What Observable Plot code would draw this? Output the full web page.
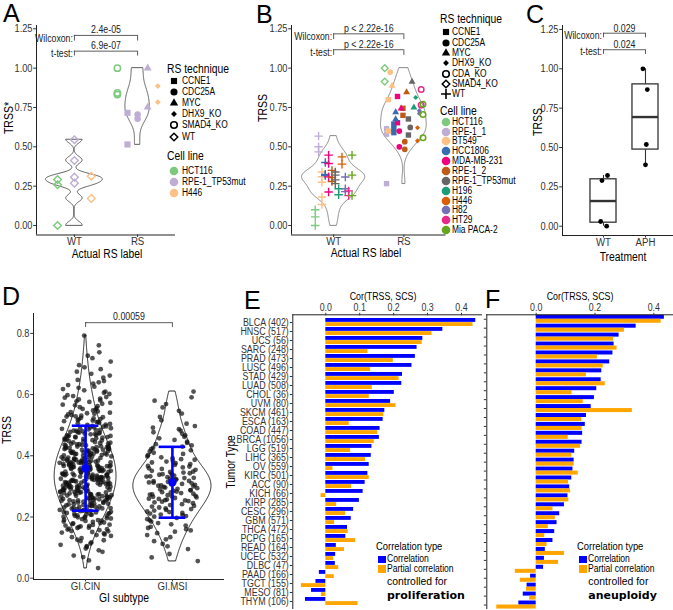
<!DOCTYPE html>
<html>
<head>
<meta charset="utf-8">
<script src="https://cdn.jsdelivr.net/npm/d3@7"></script>
<script src="https://cdn.jsdelivr.net/npm/@observablehq/plot@0.6"></script>
<style>
  html,body{margin:0;padding:0;background:#fff;}
  #fig{position:relative;width:673px;height:610px;overflow:hidden;background:#fff;}
  #fig > svg{position:absolute;left:0;top:0;}
  .lbl{position:absolute;white-space:nowrap;line-height:1;}
</style>
</head>
<body>
<div id="fig"></div>
<script>
const SANS = '"Liberation Sans",Arial,Helvetica,sans-serif';
const BOLDV = '"DejaVu Sans",Verdana,sans-serif';
const K = 0.84; // horizontal condensing of the narrow Helvetica used in the figure
const TICK = "#333";

// ================= Panel A data =================
const aLabels = ["WT", "RS"];
const aCellLines = ["HCT116", "RPE-1_TP53mut", "H446"];
const aCellColors = ["#7FC97F", "#BEAED4", "#FDC086"];
const aTechniques = ["CCNE1", "CDC25A", "MYC", "DHX9_KO", "SMAD4_KO", "WT"];
const aTechShapes = ["square", "circle", "triangle", "diamondSmall", "circleOpen", "diamondOpen"];
const aGrpLabel = ["WT", "WT", "WT", "RS", "RS", "RS", "RS", "RS"];
const aGrpCell = ["HCT116", "RPE-1_TP53mut", "H446", "HCT116", "RPE-1_TP53mut", "RPE-1_TP53mut", "RPE-1_TP53mut", "H446"];
const aGrpTech = ["WT", "WT", "WT", "SMAD4_KO", "CCNE1", "CDC25A", "MYC", "DHX9_KO"];
const aGrpTRSS = [[0.00, 0.259, 0.292], [0.545, 0.413, 0.307, 0.269], [0.313, 0.172],
  [1.00, 0.842, 0.832], [0.716, 0.515], [0.705, 0.679], [1.00, 0.752], [0.886, 0.784]];
const aTests = ["Wilcoxon:", "t-test:"];
const aPvals = ["2.4e-05", "6.9e-07"];
const aBracketTop = [1.208, 1.108];
const aBracketLow = [1.172, 1.077];

// ================= Panel B data =================
const bLabels = ["WT", "RS"];
const bCellLines = ["HCT116", "RPE-1_1", "BT549", "HCC1806", "MDA-MB-231", "RPE-1_2", "RPE-1_TP53mut", "H196", "H446", "H82", "HT29", "Mia PACA-2"];
const bCellColors = ["#7FC97F", "#BEAED4", "#FDC086", "#386CB0", "#F0027F", "#BF5B17", "#666666", "#1B9E77", "#D95F02", "#7570B3", "#E7298A", "#66A61E"];
const bTechniques = ["CCNE1", "CDC25A", "MYC", "DHX9_KO", "CDA_KO", "SMAD4_KO", "WT"];
const bTechShapes = ["square", "circle", "triangle", "diamondSmall", "circleOpen", "diamondOpen", "plus"];
const bGrpLabel = ["WT","WT","WT","WT","WT","WT","WT","WT","WT","WT","WT","WT",
  "RS","RS","RS","RS","RS","RS","RS","RS","RS","RS","RS","RS","RS","RS","RS","RS","RS","RS","RS","RS","RS","RS"];
const bGrpCell = ["HCT116","RPE-1_1","BT549","HCC1806","MDA-MB-231","RPE-1_2","RPE-1_TP53mut","H196","H446","H82","HT29","Mia PACA-2",
  "HCT116","RPE-1_1","BT549","BT549","BT549","HCC1806","HCC1806","MDA-MB-231","MDA-MB-231","MDA-MB-231",
  "RPE-1_2","RPE-1_2","RPE-1_2","RPE-1_TP53mut","RPE-1_TP53mut","RPE-1_TP53mut","H196","H196","H446","H82","HT29","Mia PACA-2"];
const bGrpTech = ["WT","WT","WT","WT","WT","WT","WT","WT","WT","WT","WT","WT",
  "SMAD4_KO","CCNE1","CCNE1","CDC25A","MYC","CCNE1","MYC","CCNE1","CDC25A","MYC",
  "CCNE1","CDC25A","MYC","CCNE1","CDC25A","MYC","MYC","DHX9_KO","DHX9_KO","DHX9_KO","CDA_KO","CDA_KO"];
const bGrpTRSS = [
  [0.00, 0.055, 0.10], [0.568, 0.50, 0.468], [0.34, 0.31, 0.275, 0.181, 0.133], [0.40, 0.325, 0.318],
  [0.447, 0.394, 0.309, 0.213], [0.35, 0.305, 0.28], [0.34, 0.32, 0.29, 0.266], [0.234, 0.195],
  [0.436, 0.39], [0.308, 0.234, 0.215], [0.22, 0.19], [0.447, 0.32, 0.19],
  [1.00, 0.915], [0.615, 0.58, 0.266], [0.80, 0.60], [0.975], [0.888], [0.645, 0.615, 0.59], [0.72, 0.675],
  [0.82, 0.653], [0.60, 0.50], [0.743], [0.745, 0.70], [0.533, 0.484], [0.847],
  [0.677, 0.575], [0.623], [0.913], [0.75], [0.813], [0.621, 0.538], [0.73, 0.712], [0.865, 0.765], [0.771, 0.705, 0.558]];
const bTests = ["Wilcoxon:", "t-test:"];
const bPvals = ["p < 2.22e-16", "p < 2.22e-16"];
const bBracketTop = [1.218, 1.117];
const bBracketLow = [1.181, 1.081];

// ================= Panel C data =================
const cTreatments = ["WT", "APH"];
const cPtTreat = ["WT", "WT", "WT", "WT", "APH", "APH", "APH", "APH"];
const cPtTRSS = [0.00, 0.03, 0.29, 0.322, 1.00, 0.868, 0.519, 0.39];
const cTests = ["Wilcoxon:", "t-test:"];
const cPvals = ["0.029", "0.024"];
const cBracketTop = [1.226, 1.121];
const cBracketLow = [1.197, 1.091];

// ================= Panel D data (TRSS x1000) =================
const dSubtypes = ["GI.CIN", "GI.MSI"];
const dCINx1000 = [33,58,69,74,86,91,97,
 102,105,109,113,117,121,124,126,131,134,138,141,143,146,149,
 151,153,154,157,159,160,162,164,165,167,169,171,172,174,175,177,179,180,182,184,185,187,188,190,191,193,195,196,198,199,
 200,201,203,204,205,207,208,209,210,211,212,213,215,216,217,218,219,220,221,222,223,225,226,227,228,229,230,231,232,233,234,235,236,237,238,239,240,241,242,243,244,245,246,247,249,
 250,251,252,253,254,254,255,256,257,258,259,260,261,261,262,263,264,265,266,267,268,268,269,270,271,272,273,274,275,275,276,277,278,279,280,281,282,282,283,284,285,286,287,288,289,289,290,291,292,293,294,295,296,296,297,298,299,299,
 300,300,301,302,303,303,304,305,306,306,307,308,309,309,310,311,312,312,313,314,315,315,316,317,318,318,319,320,321,321,322,323,324,324,325,326,327,327,328,329,330,330,331,332,333,333,334,335,336,336,337,338,339,339,340,341,342,342,343,344,345,346,347,348,
 350,351,351,352,353,354,354,355,356,357,357,358,359,360,360,361,362,363,363,364,365,366,366,367,368,369,369,370,371,372,372,373,374,375,375,376,377,378,378,379,380,381,381,382,383,384,384,385,386,387,387,388,389,390,391,392,393,394,395,396,397,398,
 400,401,402,403,404,404,405,406,407,408,409,410,410,411,412,413,414,415,416,416,417,418,419,420,421,422,422,423,424,425,426,427,428,428,429,430,431,432,433,434,435,436,437,438,439,440,441,443,444,445,447,448,
 450,451,452,454,455,456,457,459,460,461,462,463,465,466,467,468,470,471,472,473,475,476,477,478,480,481,482,484,485,486,488,489,490,492,493,495,496,498,
 501,502,504,506,508,510,511,513,515,517,519,520,522,524,526,528,529,531,533,535,537,539,541,543,545,548,
 551,553,556,559,562,565,567,570,573,576,578,581,584,587,590,592,595,598,
 602,606,610,614,618,622,626,631,636,640,644,648,
 655,662,668,675,683,689,696,708,719,727,738,761,793];
const dMSIx1000 = [56,68,79,95,
 104,112,121,127,134,141,147,
 152,156,160,164,168,172,176,180,185,189,193,197,
 201,203,206,208,211,213,216,218,221,223,226,228,231,234,236,239,242,245,248,
 250,252,254,255,257,259,260,262,264,266,267,269,271,273,274,276,278,280,281,283,285,287,288,290,292,294,296,298,
 300,302,303,305,307,308,310,312,313,315,317,318,320,322,323,325,327,328,330,332,333,335,337,338,340,342,343,345,347,348,
 351,354,357,359,362,365,367,370,373,376,378,381,384,387,389,392,395,398,
 402,406,410,414,418,422,426,430,434,438,442,446,
 452,457,462,467,472,477,482,487,492,497,
 505,516,527,538,547,558,569,580,591,610];
const dPval = ["0.00059"];
const dBracketTop = [0.835];
const dBracketLow = [0.819];

// ================= Panel E / F data =================
const eTumors = ["BLCA (402)","HNSC (517)","UCS (56)","SARC (248)","PRAD (473)","LUSC (496)","STAD (429)","LUAD (508)",
  "CHOL (36)","UVM (80)","SKCM (461)","ESCA (163)","COAD (447)","BRCA (1056)","LGG (519)","LIHC (365)","OV (559)",
  "KIRC (501)","ACC (90)","KICH (66)","KIRP (285)","CESC (296)","GBM (571)","THCA (472)","PCPG (165)","READ (164)",
  "UCEC (532)","DLBC (47)","PAAD (166)","TGCT (155)","MESO (81)","THYM (106)"];
const eCor = [0.442,0.345,0.286,0.269,0.264,0.254,0.226,0.224,0.202,0.191,0.174,0.169,0.160,0.158,0.136,0.134,
  0.128,0.124,0.116,0.110,0.099,0.082,0.075,0.064,0.059,0.031,0.029,0.028,-0.019,-0.029,-0.042,-0.060];
const ePartial = [0.434,0.313,0.284,0.124,0.199,0.132,0.216,0.137,0.128,0.207,0.171,0.069,0.153,0.143,0.073,0.117,
  0.021,0.128,0.076,-0.014,0.032,0.058,0.026,0.066,0.088,0.055,0.023,0.038,0.025,-0.072,-0.013,0.095];
const fCor = [0.436,0.340,0.282,0.265,0.261,0.250,0.223,0.221,0.206,0.198,0.187,0.171,0.167,0.158,0.156,0.131,0.129,
  0.125,0.121,0.114,0.108,0.096,0.080,0.071,0.063,0.057,0.031,0.028,0.025,-0.019,-0.031,-0.044,-0.059];
const fPartial = [0.425,0.300,0.263,0.275,0.208,0.228,0.171,0.235,0.122,0.160,0.327,0.155,0.156,0.109,0.151,0.121,0.129,
  0.143,0.110,0.117,0.111,0.057,0.065,0.041,0.029,0.037,0.096,0.076,-0.071,-0.054,-0.033,-0.022,-0.134];
const corTypes = ["Correlation", "Partial correlation"];
const corColors = ["#0000FF", "#FFA500"];

// ================= helpers =================
const fig = document.getElementById("fig");
function addText(txt, x, y, o = {}) {
  const d = document.createElement("div");
  d.className = "lbl";
  d.textContent = txt;
  d.style.fontSize = (o.size || 11) + "px";
  d.style.fontFamily = o.family || SANS;
  if (o.weight) d.style.fontWeight = o.weight;
  d.style.color = o.color || "#000";
  d.style.left = x + "px";
  d.style.top = y + "px";
  const k = o.wide ? 1 : K;
  if (o.rotate) {
    d.style.transformOrigin = "50% 50%";
    d.style.transform = `translate(-50%,-50%) rotate(${o.rotate}deg) scale(${k},1)`;
  } else {
    const tx = o.anchor === "middle" ? "-50%" : o.anchor === "end" ? "-100%" : "0";
    d.style.transformOrigin = o.anchor === "middle" ? "50% 50%" : o.anchor === "end" ? "100% 50%" : "0 50%";
    d.style.transform = `translate(${tx},-50%) scale(${k},1)`;
  }
  fig.appendChild(d);
}
const LEG = {
  square: [d3.symbolSquare, 38, false], circle: [d3.symbolCircle, 40, false], triangle: [d3.symbolTriangle, 30, false],
  diamondSmall: [d3.symbolDiamond2, 22, false], circleOpen: [d3.symbolCircle, 34, true, 1.6],
  diamondOpen: [d3.symbolDiamond2, 36, true, 1.5], plus: [d3.symbolPlus, 34, true, 1.6], dot: [d3.symbolCircle, 58, false]
};
function addSymbol(shape, cx, cy, color = "#000") {
  const [type, size, open, sw] = LEG[shape];
  const s = 16;
  fig.insertAdjacentHTML("beforeend",
    `<svg width="${s}" height="${s}" style="position:absolute;left:${cx - s / 2}px;top:${cy - s / 2}px;overflow:visible">` +
    `<path transform="translate(${s / 2},${s / 2})" d="${d3.symbol(type, size)()}" fill="${open ? "none" : color}" stroke="${open ? color : "none"}" stroke-width="${sw || 0}"/></svg>`);
}
function addSwatch(x, y, w, h, color) {
  const d = document.createElement("div");
  d.style.cssText = `position:absolute;left:${x}px;top:${y}px;width:${w}px;height:${h}px;background:${color}`;
  fig.appendChild(d);
}
function condense(svg) {
  svg.querySelectorAll("text").forEach(t => {
    const tr = t.getAttribute("transform") || "";
    const xa = t.getAttribute("x");
    let x = 0;
    if (xa != null && !/em$/.test(xa)) { x = parseFloat(xa) || 0; t.removeAttribute("x"); }
    t.setAttribute("transform", `${tr} translate(${x},0) scale(${K},1)`);
  });
  return svg;
}
function addPlot(svg) { fig.appendChild(condense(svg)); }
function nrd0(v) {
  const sd = d3.deviation(v), iqr = d3.quantile(v, 0.75) - d3.quantile(v, 0.25);
  let lo = Math.min(sd, iqr / 1.34);
  if (!(lo > 0)) lo = sd || Math.abs(v[0]) || 1;
  return 0.9 * lo * Math.pow(v.length, -0.2);
}
function kde(values, n = 300) {
  const v = values.slice().sort(d3.ascending), bw = nrd0(v);
  const lo = v[0], hi = v[v.length - 1];
  return d3.range(n).map(i => {
    const y = lo + (hi - lo) * i / (n - 1);
    let s = 0;
    for (const x of v) { const z = (y - x) / bw; s += Math.exp(-0.5 * z * z); }
    return {y, d: s / (v.length * bw * Math.sqrt(2 * Math.PI))};
  });
}
function violins(groups, half = 0.45) {
  const dens = groups.map(g => kde(g.values).map(p => ({...p, cat: g.cat})));
  const m = d3.max(dens.flat(), p => p.d);
  return dens.flat().map(p => ({cat: p.cat, y: p.y, x1: p.cat - half * p.d / m, x2: p.cat + half * p.d / m}));
}
function dodgeRows(grpLabel, grpCell, grpTech, grpVals, labels, cells, colors, techs, width) {
  const rows = [];
  labels.forEach((lab, li) => {
    const gi = d3.range(grpLabel.length).filter(i => grpLabel[i] === lab)
      .sort((a, b) => cells.indexOf(grpCell[a]) - cells.indexOf(grpCell[b]) || techs.indexOf(grpTech[a]) - techs.indexOf(grpTech[b]));
    const k = gi.length;
    gi.forEach((g, j) => {
      const off = (j - (k - 1) / 2) * width / k;
      grpVals[g].forEach(v => rows.push({cat: li + 1, x: li + 1 + off, y: v, tech: grpTech[g], color: colors[cells.indexOf(grpCell[g])]}));
    });
  });
  return rows;
}
const SHAPE = {
  square: {sym: "square", r: 3.3}, circle: {sym: "circle", r: 3.1}, triangle: {sym: "triangle", r: 2.8},
  diamondSmall: {sym: "diamond2", r: 2.5}, circleOpen: {sym: "circle", r: 3.0, open: true, sw: 1.5},
  diamondOpen: {sym: "diamond2", r: 3.3, open: true, sw: 1.4}, plus: {sym: "plus", r: 3.1, open: true, sw: 1.4}
};
function pointMarks(rows, techs, shapes, scale = 1) {
  return techs.map((t, i) => {
    const s = SHAPE[shapes[i]];
    return Plot.dot(rows.filter(d => d.tech === t), {
      x: "x", y: "y", symbol: s.sym, r: s.r * scale,
      fill: s.open ? "none" : "color", stroke: s.open ? "color" : "none", strokeWidth: s.sw || 0
    });
  });
}
function bracketMarks(tests, pvals, tops, lows, x1, x2, pdy) {
  const rows = pvals.map((p, i) => ({test: tests ? tests[i] : "", p, top: tops[i], low: lows[i]}));
  const m = [
    Plot.ruleY(rows, {y: "top", x1, x2, stroke: "#333", strokeWidth: 0.8}),
    Plot.ruleX(rows, {x: x1, y1: "low", y2: "top", stroke: "#333", strokeWidth: 0.8}),
    Plot.ruleX(rows, {x: x2, y1: "low", y2: "top", stroke: "#333", strokeWidth: 0.8}),
    Plot.text(rows, {x: (x1 + x2) / 2, y: "top", text: "p", dy: pdy, fontSize: 10.5, fill: "#222"})
  ];
  if (tests) m.push(Plot.text(rows, {x: x1, y: d => (d.top + d.low) / 2, text: "test", textAnchor: "end", dx: -1.5, fontSize: 10.4, fill: "#222"}));
  return m;
}
const hashJitter = i => { const s = Math.sin((i + 1) * 12.9898 + 78.233) * 43758.5453; return s - Math.floor(s) - 0.5; };
const baseStyle = {background: "transparent", overflow: "visible", fontFamily: SANS, fontSize: "11px", color: "#222"};
const yTicks125 = [0, 0.25, 0.5, 0.75, 1, 1.25];
const xAxisOpts = {ticks: [1, 2], tickSize: 2.5, tickPadding: -0.5, fontSize: 11.5, color: TICK, label: null};
const yAxisOpts = {tickSize: 2.8, tickPadding: 1.2, fontSize: 11, color: TICK, label: null};

// ================= Panel A =================
{
  const rows = dodgeRows(aGrpLabel, aGrpCell, aGrpTech, aGrpTRSS, aLabels, aCellLines, aCellColors, aTechniques, 0.8);
  const vio = violins(aLabels.map((l, i) => ({cat: i + 1, values: rows.filter(r => r.cat === i + 1).map(r => r.y)})));
  const yMin = -0.0604, yMax = 1.271;
  addPlot(Plot.plot({
    width: 673, height: 610, marginLeft: 36, marginRight: 673 - 175, marginTop: 25, marginBottom: 610 - 234.5,
    style: baseStyle,
    x: {domain: [0.4, 2.6]}, y: {domain: [yMin, yMax]}, color: {type: "identity"},
    marks: [
      Plot.areaX(vio, {y: "y", x1: "x1", x2: "x2", z: "cat", fill: "white", stroke: "#333", strokeWidth: 0.8}),
      ...pointMarks(rows, aTechniques, aTechShapes, 1.05),
      ...bracketMarks(aTests, aPvals, aBracketTop, aBracketLow, 1, 2, -5.5),
      Plot.ruleX([0.4], {stroke: "#222"}), Plot.ruleY([yMin], {stroke: "#222"}),
      Plot.axisY({...yAxisOpts, ticks: yTicks125, tickFormat: d3.format(".2f")}),
      Plot.axisX({...xAxisOpts, tickFormat: i => aLabels[i - 1]})
    ]
  }));
}

// ================= Panel B =================
{
  const rows = dodgeRows(bGrpLabel, bGrpCell, bGrpTech, bGrpTRSS, bLabels, bCellLines, bCellColors, bTechniques, 0.571);
  const vio = violins(bLabels.map((l, i) => ({cat: i + 1, values: rows.filter(r => r.cat === i + 1).map(r => r.y)})));
  const yMin = -0.0604, yMax = 1.271;
  addPlot(Plot.plot({
    width: 673, height: 610, marginLeft: 291, marginRight: 673 - 445.5, marginTop: 25, marginBottom: 610 - 234.5,
    style: baseStyle,
    x: {domain: [0.4, 2.6]}, y: {domain: [yMin, yMax]}, color: {type: "identity"},
    marks: [
      Plot.areaX(vio, {y: "y", x1: "x1", x2: "x2", z: "cat", fill: "white", stroke: "#555", strokeWidth: 0.7}),
      ...pointMarks(rows, bTechniques, bTechShapes, 0.92),
      ...bracketMarks(bTests, bPvals, bBracketTop, bBracketLow, 1, 2, -5.5),
      Plot.ruleX([0.4], {stroke: "#222"}), Plot.ruleY([yMin], {stroke: "#222"}),
      Plot.axisY({...yAxisOpts, ticks: yTicks125, tickFormat: d3.format(".2f")}),
      Plot.axisX({...xAxisOpts, tickFormat: i => bLabels[i - 1]})
    ]
  }));
}

// ================= Panel C =================
{
  const pts = cPtTRSS.map((v, i) => ({cat: cTreatments.indexOf(cPtTreat[i]) + 1, y: v, x: cTreatments.indexOf(cPtTreat[i]) + 1 + 0.22 * hashJitter(i + 500)}));
  const boxes = cTreatments.map((t, i) => {
    const v = pts.filter(p => p.cat === i + 1).map(p => p.y).sort(d3.ascending);
    const q1 = d3.quantileSorted(v, 0.25), q2 = d3.quantileSorted(v, 0.5), q3 = d3.quantileSorted(v, 0.75), iqr = q3 - q1;
    const lo = d3.min(v.filter(x => x >= q1 - 1.5 * iqr)), hi = d3.max(v.filter(x => x <= q3 + 1.5 * iqr));
    return {cat: i + 1, q1, q2, q3, lo, hi};
  });
  const yMin = -0.059, yMax = 1.275, hw = 0.31;
  addPlot(Plot.plot({
    width: 673, height: 610, marginLeft: 562, marginRight: 0, marginTop: 25, marginBottom: 610 - 235,
    style: baseStyle,
    x: {domain: [0.024, 2.667]}, y: {domain: [yMin, yMax]},
    marks: [
      Plot.ruleX(boxes, {x: "cat", y1: "lo", y2: "q1", stroke: "#333", strokeWidth: 1.1}),
      Plot.ruleX(boxes, {x: "cat", y1: "q3", y2: "hi", stroke: "#333", strokeWidth: 1.1}),
      Plot.rect(boxes, {x1: d => d.cat - hw, x2: d => d.cat + hw, y1: "q1", y2: "q3", fill: "white", stroke: "#333", strokeWidth: 1.3}),
      Plot.ruleY(boxes, {y: "q2", x1: d => d.cat - hw, x2: d => d.cat + hw, stroke: "#333", strokeWidth: 2.4}),
      Plot.dot(pts, {x: "x", y: "y", r: 2.4, fill: "#000"}),
      ...bracketMarks(cTests, cPvals, cBracketTop, cBracketLow, 1, 2, -5),
      Plot.ruleX([0.024], {stroke: "#222"}), Plot.ruleY([yMin], {stroke: "#222"}),
      Plot.axisY({...yAxisOpts, ticks: yTicks125, tickFormat: d3.format(".2f")}),
      Plot.axisX({...xAxisOpts, tickFormat: i => cTreatments[i - 1]})
    ]
  }));
}

// ================= Panel D =================
{
  const dCIN = dCINx1000.map(v => v / 1000), dMSI = dMSIx1000.map(v => v / 1000);
  const groups = [{cat: 1, values: dCIN}, {cat: 2, values: dMSI}];
  const pts = [...dCIN.map((v, i) => ({x: 1 + 0.6 * hashJitter(i), y: v})), ...dMSI.map((v, i) => ({x: 2 + 0.6 * hashJitter(i + 1000), y: v}))];
  const vio = violins(groups);
  const stats = groups.map(g => ({cat: g.cat, mean: d3.mean(g.values), sd: d3.deviation(g.values)}));
  const yMin = -0.0043, yMax = 0.865;
  addPlot(Plot.plot({
    width: 673, height: 610, marginLeft: 33, marginRight: 673 - 224, marginTop: 313, marginBottom: 610 - 579,
    style: baseStyle,
    x: {domain: [0.4, 2.6]}, y: {domain: [yMin, yMax]},
    marks: [
      Plot.dot(pts, {x: "x", y: "y", r: 2.4, fill: "#111", fillOpacity: 0.72}),
      Plot.areaX(vio, {y: "y", x1: "x1", x2: "x2", z: "cat", fill: "none", stroke: "#111", strokeWidth: 0.9}),
      Plot.ruleX(stats, {x: "cat", y1: d => d.mean - d.sd, y2: d => d.mean + d.sd, stroke: "#0000FF", strokeWidth: 2.6}),
      Plot.ruleY(stats, {y: d => d.mean - d.sd, x1: d => d.cat - 0.153, x2: d => d.cat + 0.153, stroke: "#0000FF", strokeWidth: 2.6}),
      Plot.ruleY(stats, {y: d => d.mean + d.sd, x1: d => d.cat - 0.153, x2: d => d.cat + 0.153, stroke: "#0000FF", strokeWidth: 2.6}),
      Plot.dot(stats, {x: "cat", y: "mean", r: 4.2, fill: "#0000FF"}),
      ...bracketMarks(null, dPval, dBracketTop, dBracketLow, 1, 2, -6.5),
      Plot.ruleX([0.4], {stroke: "#222"}), Plot.ruleY([yMin], {stroke: "#222"}),
      Plot.axisY({...yAxisOpts, ticks: [0, 0.2, 0.4, 0.6, 0.8], tickFormat: d3.format(".1f")}),
      Plot.axisX({...xAxisOpts, tickFormat: i => dSubtypes[i - 1]})
    ]
  }));
}

// ================= Panels E and F =================
function corPanel(cats, cor, partial, left, right, xDomain, xTicks, withLabels) {
  const rows = cats.map((c, i) => ({cat: c, cor: cor[i], partial: partial[i]}));
  const top = 314.3, bottom = 609;
  const bw = 0.9 * (bottom - top) / cats.length;
  return Plot.plot({
    width: 673, height: 610, marginLeft: left, marginRight: 673 - right, marginTop: top, marginBottom: 610 - bottom,
    style: baseStyle,
    x: {domain: xDomain},
    y: {type: "band", domain: cats, paddingInner: 0.1, paddingOuter: 0.05},
    marks: [
      Plot.barX(rows, {y: "cat", x: "cor", fill: corColors[0], insetBottom: bw / 2}),
      Plot.barX(rows, {y: "cat", x: "partial", fill: corColors[1], insetTop: bw / 2}),
      Plot.ruleX([xDomain[0]], {stroke: "#222"}),
      Plot.frame({anchor: "top", stroke: "#222"}),
      Plot.axisX({anchor: "top", ticks: xTicks, tickFormat: d3.format(".1f"), tickSize: 2.5, tickPadding: 1, fontSize: 10.5, color: TICK, label: null}),
      Plot.axisY({tickSize: 2.5, tickPadding: 1.5, fontSize: 10.6, color: TICK, label: null, tickFormat: withLabels ? d => d : () => ""})
    ]
  });
}
addPlot(corPanel(eTumors, eCor, ePartial, 292.3, 481, [-0.0973, 0.459], [0, 0.1, 0.2, 0.3, 0.4], true));
addPlot(corPanel(d3.range(fCor.length), fCor, fPartial, 486.3, 673, [-0.168, 0.467], [0, 0.2, 0.4], false));

// ================= Titles, axis titles and legends =================
addText("A", 3, 13.2, {size: 25, wide: true});
addText("B", 256, 14.2, {size: 25, wide: true});
addText("C", 526, 14.2, {size: 25, wide: true});
addText("D", 2, 296, {size: 25, wide: true});
addText("E", 244, 299.5, {size: 25, wide: true});
addText("F", 485, 298.5, {size: 25, wide: true});

addText("TRSS*", 8.5, 118, {size: 12.5, rotate: -90});
addText("Actual RS label", 107, 254, {size: 12.3, anchor: "middle"});
addText("TRSS", 263, 108, {size: 12.5, rotate: -90});
addText("Actual RS label", 366, 253, {size: 12.3, anchor: "middle"});
addText("TRSS", 537.5, 122, {size: 12.5, rotate: -90});
addText("Treatment", 623, 257, {size: 12.3, anchor: "middle"});
addText("TRSS", 6.5, 430, {size: 12.5, rotate: -90});
addText("GI subtype", 124, 598, {size: 12.3, anchor: "middle"});
addText("Tumor Type", 231, 462, {size: 12, rotate: -90});
addText("Cor(TRSS, SCS)", 383, 296, {size: 10.5, anchor: "middle"});
addText("Cor(TRSS, SCS)", 580, 296, {size: 10.5, anchor: "middle"});

// Legend A
addText("RS technique", 167, 69, {size: 12.3});
aTechniques.forEach((t, i) => { const cy = 80.5 + i * 11.2; addSymbol(aTechShapes[i], 174, cy); addText(t, 181.5, cy, {size: 10}); });
addText("Cell line", 167, 156, {size: 12.3});
aCellLines.forEach((c, i) => { const cy = 171 + i * 10.8; addSymbol("dot", 174, cy, aCellColors[i]); addText(c, 181.5, cy, {size: 10}); });

// Legend B
addText("RS technique", 440, 19, {size: 12.3});
bTechniques.forEach((t, i) => { const cy = 32.3 + i * 10.3; addSymbol(bTechShapes[i], 445.5, cy); addText(t, 451.5, cy, {size: 10}); });
addText("Cell line", 440, 111, {size: 12.3});
bCellLines.forEach((c, i) => { const cy = 121.7 + i * 9.85; addSymbol("dot", 445.5, cy, bCellColors[i]); addText(c, 451.5, cy, {size: 10}); });

// Legends E and F
function corLegend(x, ctrl) {
  addText("Correlation type", x, 547, {size: 11.2});
  corTypes.forEach((t, i) => { addSwatch(x + 2, 555.5 + i * 9.6, 7.5, 7.5, corColors[i]); addText(t, x + 10.5, 559.3 + i * 9.6, {size: 10.2}); });
  addText("controlled for", x + 11, 581.5, {size: 10.4, wide: true});
  addText(ctrl, x + 11, 594.5, {size: 11, family: BOLDV, weight: "bold", wide: true});
}
corLegend(376, "proliferation");
corLegend(577.3, "aneuploidy");
</script>
</body>
</html>
